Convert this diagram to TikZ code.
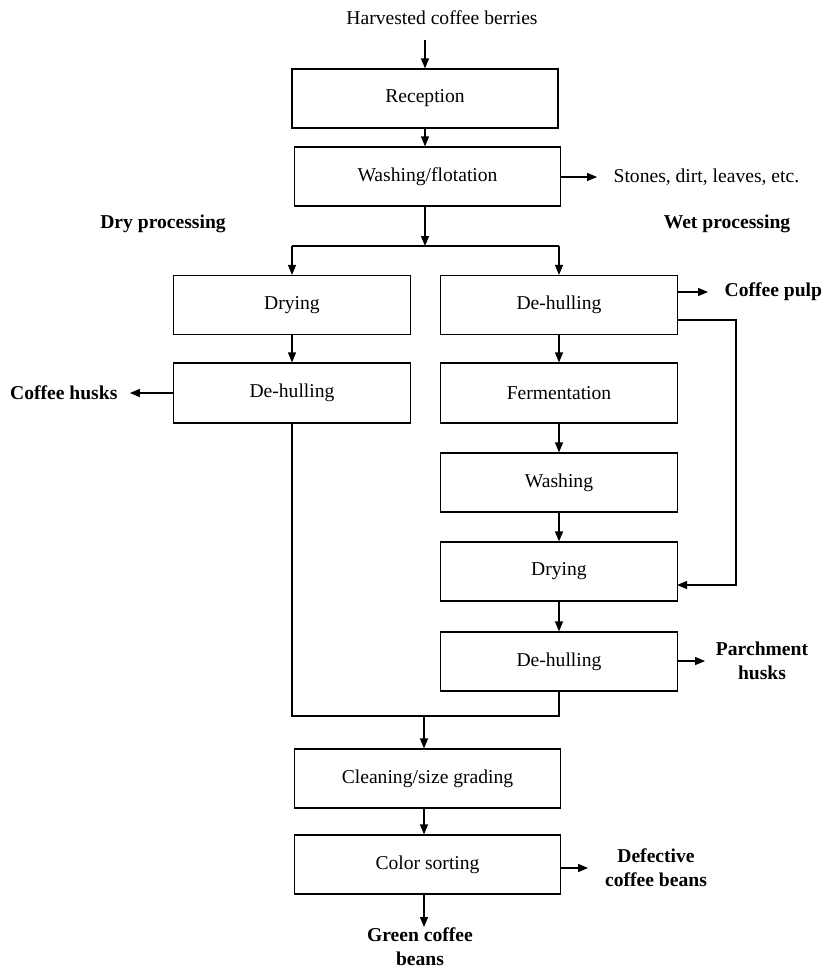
\documentclass[tikz,border=0pt]{standalone}
\usepackage{fontspec}
\setmainfont{Liberation Serif}
\usetikzlibrary{arrows.meta}

\newcommand{\flowfont}{\fontsize{9.8}{12}\selectfont}

\begin{document}
\begin{tikzpicture}[x=0.5pt, y=-0.5pt, line width=0.6pt, font=\flowfont,
		proc/.style={rectangle, draw, minimum width=133pt, minimum height=29.5pt, inner sep=0pt},
		narrow/.style={proc, minimum width=118.5pt},
		byprod/.style={font=\flowfont\bfseries, align=center, inner sep=0pt},
		flow/.style={-{Triangle[length=5pt, width=4pt]}}]
	\useasboundingbox (0,0) rectangle (834,969);

	% main line
	\node[inner sep=0pt] (berries) at (442,18) {Harvested coffee berries};
	\node[proc] (reception) at (425,98.5) {Reception};
	\node[proc] (flotation) at (427.5,176.5) {Washing/flotation};
	\node[anchor=west, inner sep=0pt] (stones) at (613,177) {Stones, dirt, leaves, etc.};
	\coordinate (berriesend) at (425,40);
	\coordinate (split) at (425,246);
	\coordinate (splitL) at (292,246);
	\coordinate (splitR) at (559,246);

	\draw[flow] (berriesend) -- (reception);
	\draw[flow] (reception.south) -- (reception.south |- flotation.north);
	\draw[flow] (flotation.east |- stones) -- ++(36,0);
	\draw[flow] (flotation.south -| split) -- (split);
	\draw (splitL) -- (splitR);

	\node[byprod] (drylabel) at (163,224) {Dry processing};
	\node[byprod] (wetlabel) at (727,224) {Wet processing};

	% dry side
	\node[narrow] (drying1) at (292,305) {Drying};
	\node[narrow, minimum height=30pt] (dehull1) at (292,393) {De-hulling};
	\node[byprod, anchor=east] (husks) at (118,393) {Coffee husks};
	\draw[flow] (splitL) -- (drying1);
	\draw[flow] (drying1) -- (dehull1);
	\draw[flow] (dehull1.west) -- ++(-43,0);

	% wet side
	\node[narrow] (dehull2) at (559,305) {De-hulling};
	\node[narrow, minimum height=30pt] (ferment) at (559,393) {Fermentation};
	\node[narrow] (washing) at (559,482.5) {Washing};
	\node[narrow] (drying2) at (559,571.5) {Drying};
	\node[narrow] (dehull3) at (559,661.5) {De-hulling};
	\node[byprod, anchor=west] (pulp) at (724,292) {Coffee pulp};
	\node[byprod] (parchment) at (762,661) {Parchment\\husks};
	\coordinate (bypassA) at (677,320);
	\coordinate (bypassB) at (736,320);
	\coordinate (bypassC) at (736,585);
	\coordinate (bypassD) at (677,585);

	\draw[flow] (splitR) -- (dehull2);
	\draw[flow] (dehull2.east |- pulp) -- ++(30,0);
	\draw[flow] (dehull2) -- (ferment);
	\draw[flow] (ferment) -- (washing);
	\draw[flow] (washing) -- (drying2);
	\draw[flow] (drying2) -- (dehull3);
	\draw[flow] (bypassA) -- (bypassB) -- (bypassC) -- (bypassD);
	\draw[flow] (dehull3.east |- parchment) -- ++(27,0);

	% merge and final steps
	\coordinate (merge) at (424,716);
	\node[proc] (cleaning) at (427.5,778.5) {Cleaning/size grading};
	\node[proc] (sorting) at (427.5,864.5) {Color sorting};
	\node[byprod] (defective) at (656,868) {Defective\\coffee beans};
	\node[byprod, anchor=north] (green) at (420,927) {Green coffee\\beans};

	\draw (dehull1.south) |- (merge) -| (dehull3.south);
	\draw[flow] (merge) -- (cleaning.north -| merge);
	\draw[flow] (cleaning.south -| merge) -- (sorting.north -| merge);
	\draw[flow] (sorting.east |- defective) -- ++(27,0);
	\draw[flow] (sorting.south -| merge) -- (green.north -| merge);
\end{tikzpicture}
\end{document}
